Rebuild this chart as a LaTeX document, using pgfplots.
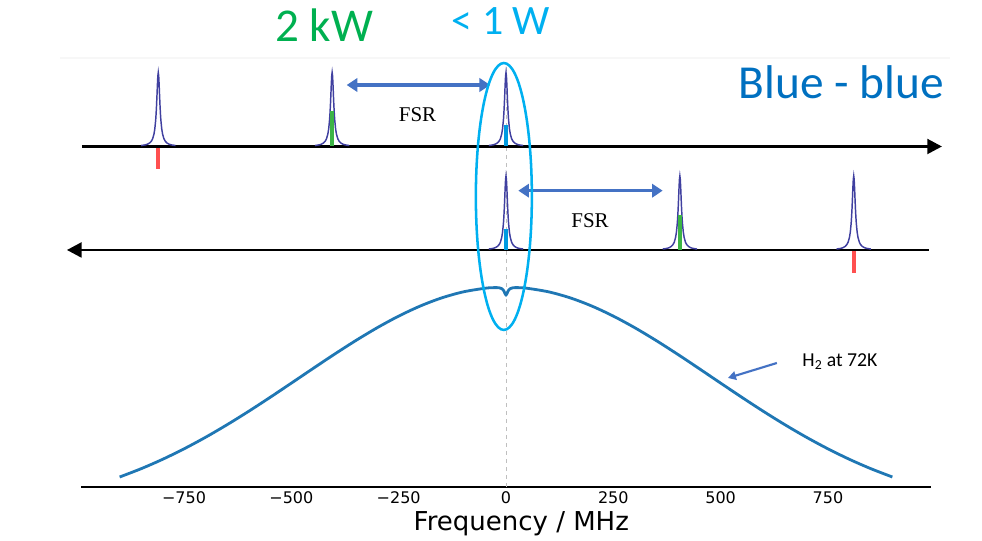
\documentclass[border=0pt]{standalone}
\usepackage{pgfplots}
\pgfplotsset{compat=1.18}
\usepackage{pgfplotstable}
\usepackage{fontspec}
\setmainfont{Carlito}
\newfontfamily\dejavu{DejaVu Sans}
\newfontfamily\timesf{Liberation Serif}
\usetikzlibrary{arrows.meta}

\definecolor{mplblue}{HTML}{1F77B4}
\definecolor{peakc}{RGB}{64,64,160}
\definecolor{arrowc}{HTML}{4472C4}
\definecolor{cyanc}{HTML}{00B0F0}
\definecolor{greenc}{HTML}{00B050}
\definecolor{barg}{RGB}{60,180,70}
\definecolor{barb}{RGB}{0,155,225}
\definecolor{barr}{RGB}{255,80,80}
\definecolor{titleb}{HTML}{0070C0}

% H2 Doppler profile with central dip (height above the frequency axis)
\pgfplotstableread{
x h
-900 9.99
-850 18.27
-800 27.65
-750 38.14
-700 49.68
-650 62.19
-600 75.52
-550 89.49
-500 103.86
-450 118.35
-400 132.65
-350 146.40
-300 159.26
-250 170.88
-200 180.91
-150 189.06
-100 195.07
-50 198.68
-30 199.33
-20 199.33
-15 199.09
-10 198.35
-7 197.28
-5 196.00
-3 194.12
-1.5 192.66
0 192.00
1.5 192.66
3 194.12
5 196.00
7 197.28
10 198.35
15 199.09
20 199.33
30 199.33
50 198.68
100 195.07
150 189.06
200 180.91
250 170.88
300 159.26
350 146.40
400 132.65
450 118.35
500 103.86
550 89.49
600 75.52
650 62.19
700 49.68
750 38.14
800 27.65
850 18.27
900 9.99
}\gauss

% cavity resonance profile (offset from line centre, height)
\pgfplotstableread{
d h
-40 0.93
-30 1.63
-25 2.32
-20 3.57
-16 5.4
-13 7.9
-10 12.5
-8 17.8
-6 26.6
-5 33.1
-4 41.3
-3 51.2
-2 61.8
-1 70.5
0 74
1 70.5
2 61.8
3 51.2
4 41.3
5 33.1
6 26.6
8 17.8
10 12.5
13 7.9
16 5.4
20 3.57
25 2.32
30 1.63
40 0.93
}\peak

\begin{document}
\begin{tikzpicture}
\begin{axis}[
  x=0.32198pt, y=0.75pt,
  xmin=-990, xmax=990, ymin=0, ymax=430,
  axis x line*=bottom, axis y line=none, ytick=\empty,
  x axis line style={line width=1.6pt, -},
  xtick={-750,-500,-250,0,250,500,750},
  xticklabels={−750,−500,−250,0,250,500,750},
  major tick length=0pt,
  xticklabel style={font=\dejavu\fontsize{12}{12}\selectfont, anchor=base, yshift=-12.75pt},
  xlabel={Frequency / MHz},
  xlabel style={font=\dejavu\fontsize{19.5}{20}\selectfont, at={(axis description cs:0.518,0)}, anchor=base, yshift=-33pt},
  clip=false,
]
% canvas extent
\path (axis cs:-1178.7,-52) rectangle (axis cs:1108.8,487);
% faint frame line
\draw[black!3, line width=0.8pt] (axis cs:-1039,429) -- (axis cs:1034,429);
% dashed centre line
\draw[black!25, dashed, line width=0.6pt] (axis cs:0,0) -- (axis cs:0,422);

% Doppler profile
\addplot[mplblue, line width=2.1pt, smooth, no marks] table[x=x, y=h] {\gauss};

% propagation axes
\draw[black, line width=2.2pt, -{Triangle[length=11pt,width=11pt]}] (axis cs:-988,340.5) -- (axis cs:1015.6,340.5);
\draw[black, line width=2.2pt, -{Triangle[length=11pt,width=11pt]}] (axis cs:985,237) -- (axis cs:-1023,237);

% resonances, forward direction
\addplot[peakc, line width=1.1pt, no marks] table[x expr=\thisrow{d}-810, y expr=\thisrow{h}+340.5] {\peak};
\addplot[peakc, line width=1.1pt, no marks] table[x expr=\thisrow{d}-405, y expr=\thisrow{h}+340.5] {\peak};
\addplot[peakc, line width=1.1pt, no marks] table[x expr=\thisrow{d}, y expr=\thisrow{h}+340.5] {\peak};
% resonances, backward direction
\addplot[peakc, line width=1.1pt, no marks] table[x expr=\thisrow{d}, y expr=\thisrow{h}+237] {\peak};
\addplot[peakc, line width=1.1pt, no marks] table[x expr=\thisrow{d}+405, y expr=\thisrow{h}+237] {\peak};
\addplot[peakc, line width=1.1pt, no marks] table[x expr=\thisrow{d}+810, y expr=\thisrow{h}+237] {\peak};

% laser components
\addplot[barr, line width=3pt, no marks] coordinates {(-810,339) (-810,318)};
\addplot[barg, line width=3pt, no marks] coordinates {(-405,376) (-405,340.5)};
\addplot[barb, line width=3pt, no marks] coordinates {(0,362) (0,340.5)};
\addplot[barb, line width=3pt, no marks] coordinates {(0,258) (0,237)};
\addplot[barg, line width=3pt, no marks] coordinates {(405,272) (405,237)};
\addplot[barr, line width=3pt, no marks] coordinates {(810,235.5) (810,214)};

% FSR arrows
\draw[arrowc, line width=2.5pt, {Triangle[length=8pt,width=10pt]}-{Triangle[length=8pt,width=10pt]}] (axis cs:-371,402) -- (axis cs:-37,402);
\draw[arrowc, line width=2.5pt, {Triangle[length=8pt,width=10pt]}-{Triangle[length=8pt,width=10pt]}] (axis cs:28.7,296.3) -- (axis cs:365,296.3);
\node[anchor=base, font=\timesf\fontsize{15.75}{16}\selectfont] at (axis cs:-206,365) {FSR};
\node[anchor=base, font=\timesf\fontsize{15.75}{16}\selectfont] at (axis cs:195.7,259) {FSR};

% ellipse
\draw[cyanc, line width=1.9pt] (axis cs:-5,290.5) ellipse [x radius=21pt, y radius=100.1pt];

% H2 label
\draw[arrowc, line width=1.6pt, -{Triangle[length=6pt,width=6.5pt]}] (axis cs:631,124) -- (axis cs:517,109);
\node[anchor=base, font=\fontsize{14.8}{16}\selectfont] at (axis cs:778,120) {H\textsubscript{2} at 72K};

% titles
\node[anchor=base, text=greenc, font=\fontsize{35.3}{38}\selectfont] at (axis cs:-424,445) {2 kW};
\node[anchor=base, text=cyanc, font=\fontsize{31.4}{34}\selectfont] at (axis cs:-11.6,452) {< 1 W};
\node[anchor=base, text=titleb, font=\fontsize{35.5}{38}\selectfont] at (axis cs:781.5,388) {Blue - blue};
\end{axis}
\end{tikzpicture}
\end{document}
